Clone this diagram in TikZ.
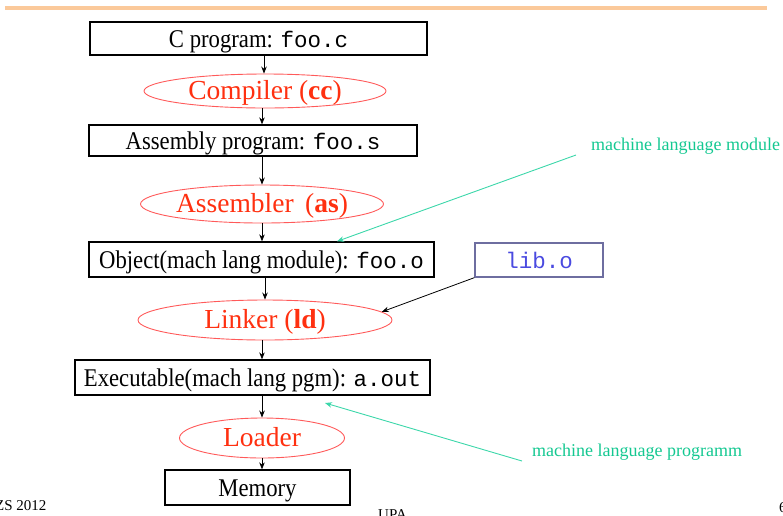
\documentclass[tikz,border=0pt]{standalone}
\usepackage{fontspec}
\setmainfont{Liberation Serif}
\setmonofont{Liberation Mono}
\newfontfamily\boxfont[FakeStretch=0.89]{Liberation Serif}
\usetikzlibrary{arrows.meta,shapes.geometric}

\definecolor{rulecol}{RGB}{251,201,154}
\definecolor{toolred}{RGB}{255,48,16}
\definecolor{edgered}{RGB}{255,90,90}
\definecolor{notegreen}{RGB}{20,200,145}
\definecolor{linegreen}{RGB}{60,215,170}
\definecolor{libblue}{RGB}{74,74,224}
\definecolor{libedge}{RGB}{110,110,160}

% monospaced file names inside the boxes
\newcommand{\fname}[1]{{\fontsize{22.5}{24}\ttfamily #1}}

\tikzset{
  filebox/.style={draw, line width=1.3pt, inner sep=0pt, text height=17pt, text depth=0pt,
    font=\boxfont\fontsize{25.5}{27}\selectfont},
  toolnode/.style={ellipse, draw=edgered, line width=0.9pt, inner sep=0pt,
    text height=19pt, text depth=3pt, text=toolred, font=\fontsize{27.5}{29}\selectfont},
  flow/.style={draw, line width=0.8pt, -{Stealth[length=7pt,width=5.5pt]}},
  noteline/.style={draw=linegreen, line width=0.9pt, -{Stealth[length=7pt,width=5.5pt]}},
  note/.style={text=notegreen, font=\fontsize{18}{20}\selectfont, inner sep=0pt, anchor=base west},
  foot/.style={font=\fontsize{15}{17}\selectfont, inner sep=0pt, anchor=base west}
}

\begin{document}
\begin{tikzpicture}[x=1pt,y=-1pt]
\useasboundingbox (0,0) rectangle (783,515);
\clip (0,0) rectangle (783,515);

% header rule
\draw[rulecol, line width=3.5pt] (5,8) -- (767,8);

% file boxes
\node[filebox, minimum width=337pt, minimum height=33pt] (src) at (258.5,38.5) {C program: \fname{foo.c}};
\node[filebox, minimum width=328pt, minimum height=31pt] (asm) at (253,140.5) {Assembly program: \fname{foo.s}};
\node[filebox, minimum width=345pt, minimum height=35pt] (obj) at (261.5,259.5) {Object(mach lang module): \fname{foo.o}};
\node[filebox, minimum width=355pt, minimum height=35pt] (exe) at (252.5,377.5) {Executable(mach lang pgm): \fname{a.out}};
\node[filebox, minimum width=185pt, minimum height=35pt] (mem) at (257.5,487.5) {Memory};
\node[draw=libedge, line width=1.3pt, inner sep=0pt, minimum width=128pt, minimum height=34pt,
      text=libblue, font=\fontsize{22.5}{24}\ttfamily] (lib) at (539,260) {lib.o};

% tools
\node[toolnode, minimum width=242pt, minimum height=34pt] (cc) at (265,91) {Compiler (\textbf{cc})};
\node[toolnode, minimum width=236pt, minimum height=38pt] (as) at (262,204) {Assembler\, (\textbf{as})};
\node[toolnode, minimum width=254pt, minimum height=40pt] (ld) at (265,320) {Linker (\textbf{ld})};
\node[toolnode, minimum width=165pt, minimum height=40pt] (load) at (262,438) {Loader};

% x positions of the vertical flow
\coordinate (xa) at (264,0);
\coordinate (xb) at (262,0);
\coordinate (xc) at (265,0);

\draw[flow] (src.south -| xa) -- (cc.north -| xa);
\draw[flow] (cc.south -| xb) -- (asm.north -| xb);
\draw[flow] (asm.south -| xb) -- (as.north -| xb);
\draw[flow] (as.south -| xb) -- (obj.north -| xb);
\draw[flow] (obj.south -| xc) -- (ld.north -| xc);
\draw[flow] (ld.south -| xb) -- (exe.north -| xb);
\draw[flow] (exe.south -| xb) -- (load.north -| xb);
\draw[flow] (load.south -| xb) -- (mem.north -| xb);

% library into linker
\draw[flow] (lib.south west) -- (ld.4);

% notes
\node[note] (modnote) at (591,150) {machine language module};
\node[note] (pgmnote) at (532,456) {machine language programm};
\coordinate (modtip) at (337,0);
\coordinate (pgmtip) at (325,403);
\draw[noteline] ([xshift=-15pt,yshift=-5pt]modnote.base west) -- (obj.north -| modtip);
\draw[noteline] ([xshift=-10pt,yshift=-5pt]pgmnote.base west) -- (pgmtip);

% footer
\node[foot] (ft1) at (-5,510) {ZS 2012};
\node[foot] (ft2) at (378,519) {UPA};
\node[foot] (ft3) at (779,512) {6};
\end{tikzpicture}
\end{document}
